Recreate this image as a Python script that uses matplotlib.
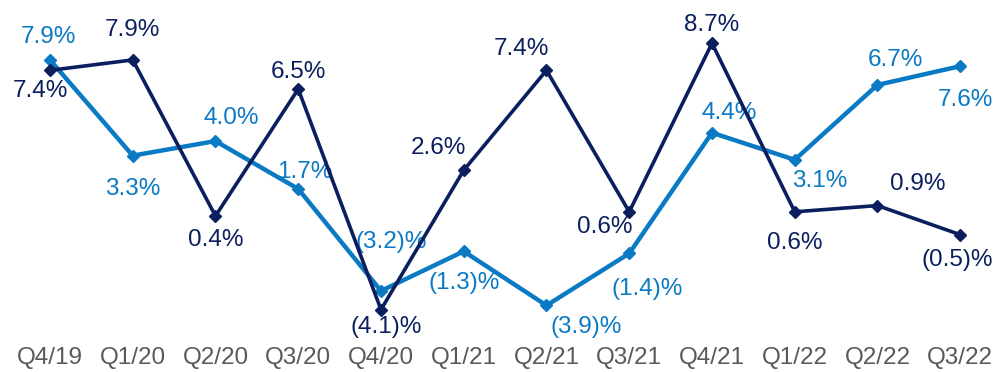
import numpy as np
import matplotlib.pyplot as plt

plt.rcParams['font.family'] = ['Liberation Sans', 'DejaVu Sans']

quarters = ['Q4/19', 'Q1/20', 'Q2/20', 'Q3/20', 'Q4/20', 'Q1/21',
            'Q2/21', 'Q3/21', 'Q4/21', 'Q1/22', 'Q2/22', 'Q3/22']
dark_vals = [7.4, 7.9, 0.4, 6.5, -4.1, 2.6, 7.4, 0.6, 8.7, 0.6, 0.9, -0.5]
light_vals = [7.9, 3.3, 4.0, 1.7, -3.2, -1.3, -3.9, -1.4, 4.4, 3.1, 6.7, 7.6]

# label offsets in pixels (dx, dy)
dark_off = [(-10, -21), (0, 30), (0, -24), (0, 17), (5, -17), (-25, 22),
            (-25, 21), (-24, -15), (0, 18), (0, -31), (40, 22), (-3, -25)]
light_off = [(-2, 23), (0, -33), (16, 23), (7, 17), (10, 49), (0, -32),
             (40, -22), (18, -36), (17, 20), (25, -21), (18, 25), (5, -34)]

DARK = '#0B1F5E'
LIGHT = '#0A7AC4'


def fmt(v):
    if v < 0:
        return '(%.1f)%%' % abs(v)
    return '%.1f%%' % v


fig = plt.figure(figsize=(9.95, 3.72), dpi=100)
ax = fig.add_axes([0, 0.0995, 1, 0.9005])
x = np.arange(len(quarters))

ax.plot(x, light_vals, color=LIGHT, lw=3.2, marker='D', ms=6.5, zorder=3)
ax.plot(x, dark_vals, color=DARK, lw=2.6, marker='D', ms=6.5, zorder=4)

for i in range(len(x)):
    ax.annotate(fmt(dark_vals[i]), (x[i], dark_vals[i]), xytext=dark_off[i],
                textcoords='offset pixels', ha='center', va='center',
                fontsize=17.5, color=DARK)
    ax.annotate(fmt(light_vals[i]), (x[i], light_vals[i]), xytext=light_off[i],
                textcoords='offset pixels', ha='center', va='center',
                fontsize=17.5, color=LIGHT)

ax.set_xlim(-0.604, 11.42)
ax.set_ylim(-5.32, 10.78)
ax.set_xticks(x)
ax.set_xticklabels(quarters, fontsize=17.5, color='#595959')
ax.tick_params(axis='x', length=0, pad=9)
ax.set_yticks([])
for s in ax.spines.values():
    s.set_visible(False)

fig.savefig('out.png', dpi=100)
